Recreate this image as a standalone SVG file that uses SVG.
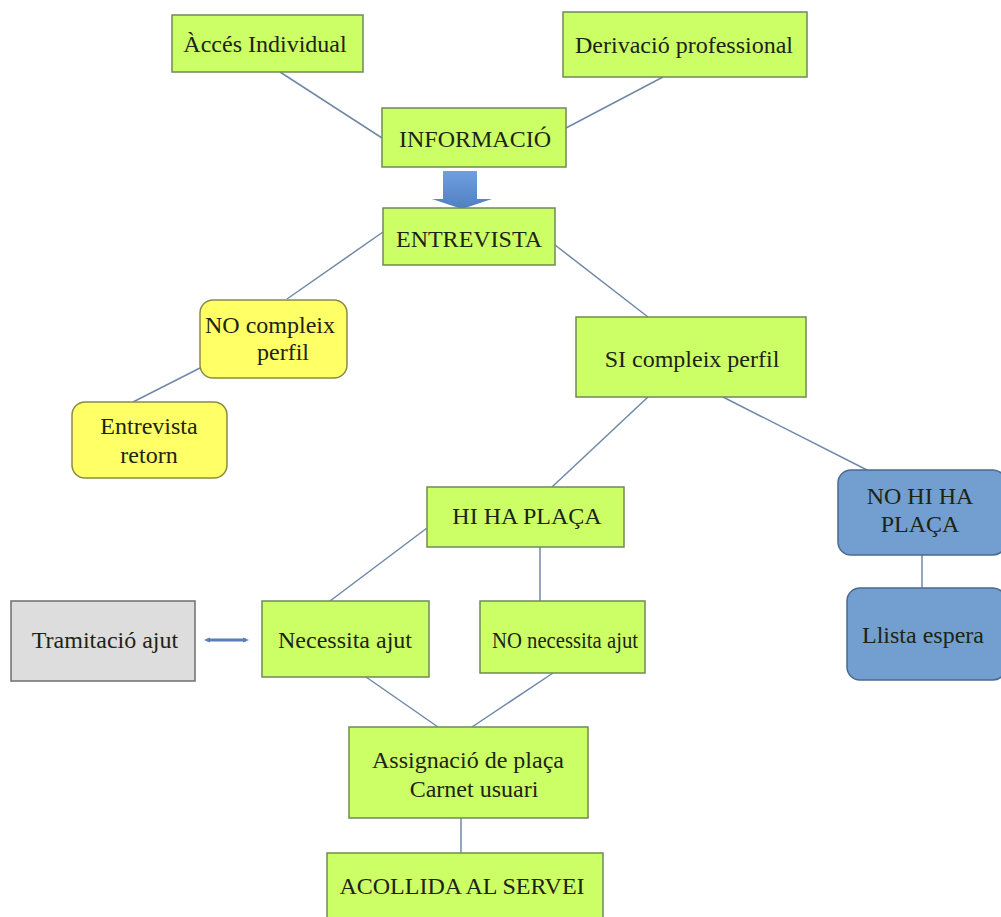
<svg xmlns="http://www.w3.org/2000/svg" width="1001" height="917" viewBox="0 0 1001 917">
<defs>
<style>
.g{fill:#ccff66;stroke:#6f8a55;stroke-width:1.5}
.y{fill:#ffff66;stroke:#8a8a45;stroke-width:1.5}
.b{fill:#729fcf;stroke:#4a6a90;stroke-width:1.5}
.gr{fill:#dddddd;stroke:#6e6e6e;stroke-width:1.5}
text{font-family:"Liberation Serif","DejaVu Serif",serif;font-size:24px;fill:#1d2414;text-anchor:middle}
.c line{stroke:#7088a8;stroke-width:1.5}
</style>
<marker id="ah" markerWidth="6" markerHeight="6" refX="3" refY="3" orient="auto-start-reverse" markerUnits="userSpaceOnUse">
<path d="M0,0.5 L6,3 L0,5.5 Z" fill="#5a7fb8"/>
</marker>
<linearGradient id="ag" x1="0" y1="0" x2="0" y2="1">
<stop offset="0" stop-color="#6f9fe0"/>
<stop offset="1" stop-color="#4f7fc0"/>
</linearGradient>
</defs>
<rect width="1001" height="917" fill="#ffffff"/>
<g class="c" id="connectors">
<line x1="280" y1="72" x2="382" y2="138"/>
<line x1="663" y1="77" x2="566" y2="128"/>
<line x1="383" y1="232" x2="287" y2="299"/>
<line x1="200" y1="368" x2="133" y2="402"/>
<line x1="555" y1="245" x2="648" y2="317"/>
<line x1="648" y1="397" x2="552" y2="487"/>
<line x1="723" y1="397" x2="867" y2="470"/>
<line x1="922" y1="555" x2="922" y2="588"/>
<line x1="427" y1="528" x2="330" y2="601"/>
<line x1="540" y1="547" x2="540" y2="601"/>
<line x1="366" y1="677" x2="438" y2="727"/>
<line x1="553" y1="673" x2="472" y2="727"/>
<line x1="461" y1="818" x2="461" y2="853"/>
<line x1="207" y1="640" x2="246" y2="640" style="stroke:#5a7fb8;stroke-width:3" marker-start="url(#ah)" marker-end="url(#ah)"/>
<polygon points="443,171 477,171 477,199 492,199 462,209 432,199 443,199" fill="url(#ag)" stroke="none"/>
</g>
<g id="acces"><rect class="g" x="172" y="15" width="191" height="57"/><text x="265" y="52">Àccés Individual</text></g>
<g id="derivacio"><rect class="g" x="563" y="12" width="244" height="65"/><text x="684" y="53">Derivació professional</text></g>
<g id="informacio"><rect class="g" x="382" y="108" width="184" height="59"/><text x="475" y="147">INFORMACIÓ</text></g>
<g id="entrevista"><rect class="g" x="383" y="208" width="172" height="57"/><text x="469" y="247">ENTREVISTA</text></g>
<g id="no-compleix"><rect class="y" x="200" y="300" width="147" height="78" rx="13"/><text x="270" y="333">NO compleix</text><text x="283" y="360">perfil</text></g>
<g id="entrevista-retorn"><rect class="y" x="72" y="402" width="155" height="76" rx="13"/><text x="149" y="434">Entrevista</text><text x="149" y="463">retorn</text></g>
<g id="si-compleix"><rect class="g" x="576" y="317" width="230" height="80"/><text x="692" y="367">SI compleix perfil</text></g>
<g id="hi-ha-placa"><rect class="g" x="427" y="487" width="197" height="60"/><text x="527" y="524">HI HA PLAÇA</text></g>
<g id="no-hi-ha-placa"><rect class="b" x="838" y="470" width="168" height="85" rx="13"/><text x="920" y="504">NO HI HA</text><text x="920" y="532">PLAÇA</text></g>
<g id="llista-espera"><rect class="b" x="847" y="588" width="159" height="92" rx="13"/><text x="923" y="643">Llista espera</text></g>
<g id="tramitacio"><rect class="gr" x="11" y="601" width="184" height="80"/><text x="105" y="648">Tramitació ajut</text></g>
<g id="necessita"><rect class="g" x="262" y="601" width="167" height="76"/><text x="345" y="648">Necessita ajut</text></g>
<g id="no-necessita"><rect class="g" x="480" y="601" width="165" height="72"/><text x="565" y="648" textLength="146" lengthAdjust="spacingAndGlyphs">NO necessita ajut</text></g>
<g id="assignacio"><rect class="g" x="349" y="727" width="239" height="91"/><text x="468" y="768">Assignació de plaça</text><text x="474" y="797">Carnet usuari</text></g>
<g id="acollida"><rect class="g" x="327" y="853" width="276" height="70"/><text x="462" y="894">ACOLLIDA AL SERVEI</text></g>
</svg>
